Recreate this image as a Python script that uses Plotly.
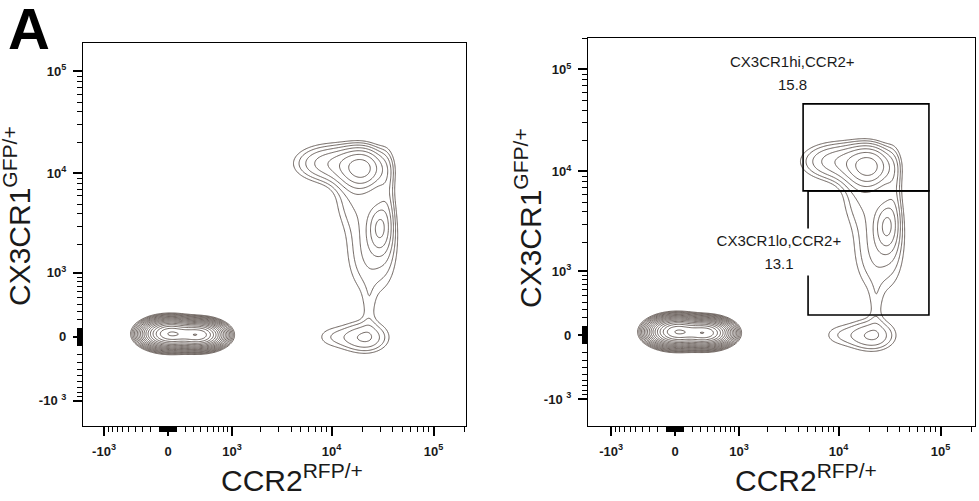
import numpy as np
import plotly.graph_objects as go

# ---------------- data ----------------
# biexponential-like display: decades = asinh(value / W) / ln(10)
W = 500.0

# cell populations (centres in fluorescence units,
# spreads in display decades, relative peak density)
pop_names    = ["neg_a", "neg_b", "hi_peak", "hi_tail", "elbow", "right_edge",
                "mid_broad", "lo_peak", "stem", "ccr2_only", "ccr2_only_tail"]
pop_ccr2     = [23, 373, 20300, 9950, 15770, 35300, 24500, 29370, 23300, 21300, 9500]
pop_cx3cr1   = [35, 23, 11170, 12520, 5585, 5585, 1735, 2915, 345, -12, 0]
pop_sd_ccr2  = [0.125, 0.115, 0.14, 0.25, 0.15, 0.06, 0.19, 0.07, 0.05, 0.17, 0.15]
pop_sd_cx3   = [0.066, 0.062, 0.13, 0.13, 0.20, 0.35, 0.36, 0.15, 0.15, 0.11, 0.10]
pop_height   = [120, 110, 5.5, 3.0, 1.2, 1.2, 2.0, 3.0, 0.6, 2.4, 1.0]
contour_ratio = 1.35   # density ratio between successive contour lines

# gates (right panel)
gate_names  = ["CX3CR1hi,CCR2+", "CX3CR1lo,CCR2+"]
gate_freq   = ["15.8", "13.1"]
gate_x0     = [4485, 5020]
gate_x1     = [77000, 77000]
gate_y0     = [6440, 233]
gate_y1     = [46000, 6440]

# axis ticks
major_vals   = [-1000, 0, 1000, 10000, 100000]
major_text_x = ["-10<sup>3</sup>", "0", "10<sup>3</sup>", "10<sup>4</sup>", "10<sup>5</sup>"]
major_text_y = ["-10 <sup>3</sup>", "0", "10<sup>3</sup>", "10<sup>4</sup>", "10<sup>5</sup>"]
minor_vals = ([-k * 100 for k in range(1, 10)] + [-k * 10 for k in range(1, 10)] +
              [k * 10 for k in range(1, 10)] + [k * 100 for k in range(1, 10)] +
              [k * 1000 for k in range(2, 10)] + [k * 10000 for k in range(2, 10)] + [200000])

x_title = "CCR2<sup>RFP/+</sup>"
y_title = "CX3CR1<sup>GFP/+</sup>"


def T(v):
    return np.arcsinh(np.asarray(v, dtype=float) / W) / np.log(10)


# ---------------- density grid ----------------
gx = np.linspace(-0.9, 3.0, 460)
gy = np.linspace(-0.95, 3.0, 460)
GX, GY = np.meshgrid(gx, gy)
dens = np.zeros_like(GX)
for cx, cy, sx, sy, h in zip(pop_ccr2, pop_cx3cr1, pop_sd_ccr2, pop_sd_cx3, pop_height):
    dens += h * np.exp(-0.5 * (((GX - T(cx)) / sx) ** 2 + ((GY - T(cy)) / sy) ** 2))
zlev = np.log(dens + 1e-12) / np.log(contour_ratio)

line_col = "#665c57"

fig = go.Figure()
for xa, ya in [("x", "y"), ("x2", "y2")]:
    fig.add_trace(go.Contour(
        x=gx, y=gy, z=zlev, xaxis=xa, yaxis=ya,
        contours=dict(start=0, end=30, size=1, coloring="lines"),
        colorscale=[[0, line_col], [1, line_col]],
        line=dict(width=1, smoothing=1),
        showscale=False, hoverinfo="skip",
    ))

# gates
for i in range(len(gate_names)):
    fig.add_shape(type="rect", xref="x2", yref="y2",
                  x0=float(T(gate_x0[i])), x1=float(T(gate_x1[i])),
                  y0=float(T(gate_y0[i])), y1=float(T(gate_y1[i])),
                  line=dict(color="black", width=1.6), fillcolor="rgba(0,0,0,0)")

FW, FH = 979, 501
def px(x):
    return x / FW
def py(y):
    return 1 - y / FH

tickfont = dict(family="Liberation Sans Narrow, Arial Narrow, Liberation Sans, Arial",
                size=13, color="#1a1a1a", weight="bold")

def axis(domain, rng, anchor, text):
    return dict(domain=domain, range=rng, anchor=anchor, automargin=False,
                showline=True, linecolor="black", linewidth=1.2, mirror=True,
                showgrid=False, zeroline=False,
                ticks="outside", ticklen=9, tickwidth=1.6, tickcolor="black",
                tickvals=[float(v) for v in T(major_vals)], ticktext=text,
                tickfont=tickfont, ticklabelstandoff=4,
                minor=dict(tickvals=[float(v) for v in T(minor_vals)], ticks="outside",
                           ticklen=5, tickwidth=1, tickcolor="black"),
                fixedrange=True)

fig.update_layout(
    width=FW, height=FH, margin=dict(l=0, r=0, t=0, b=0, autoexpand=False),
    paper_bgcolor="white", plot_bgcolor="white", showlegend=False,
    xaxis=axis([px(83), px(466)], [-0.833, 2.92], "y", major_text_x),
    yaxis=axis([py(426), py(43)], [-0.873, 2.88], "x", major_text_y),
    xaxis2=axis([px(588), px(975)], [-0.853, 2.94], "y2", major_text_x),
    yaxis2=axis([py(426), py(38)], [-0.892, 2.91], "x2", major_text_y),
)

title_font = dict(family="Liberation Sans, Arial", size=30, color="#1a1a1a")
ann = [
    dict(text="<b>A</b>", x=px(29), y=py(28), font=dict(family="Liberation Sans, Arial", size=58, color="black")),
    dict(text=x_title, x=px(292), y=py(478), font=title_font),
    dict(text=x_title, x=px(806), y=py(478), font=title_font),
    dict(text=y_title, x=px(17), y=py(216), font=title_font, textangle=-90),
    dict(text=y_title, x=px(528), y=py(218), font=title_font, textangle=-90),
]
lab_font = dict(family="Liberation Sans, Arial", size=15, color="#1a1a1a")
ann += [
    dict(text=gate_names[0], x=px(792), y=py(62), font=lab_font),
    dict(text=gate_freq[0], x=px(792), y=py(84), font=lab_font),
    dict(text=gate_names[1], x=px(779), y=py(240), font=lab_font, bgcolor="white", borderpad=3, width=128),
    dict(text=gate_freq[1], x=px(779), y=py(263), font=lab_font, bgcolor="white", borderpad=3, width=128),
]
for a in ann:
    a.setdefault("xref", "paper")
    a.setdefault("yref", "paper")
    a.setdefault("showarrow", False)
    a.setdefault("xanchor", "center")
    a.setdefault("yanchor", "middle")
fig.update_layout(annotations=ann)

fig.write_html("out.html", config={"displayModeBar": False},
               post_script="document.body.style.margin='0px';document.body.style.overflow='hidden';")
